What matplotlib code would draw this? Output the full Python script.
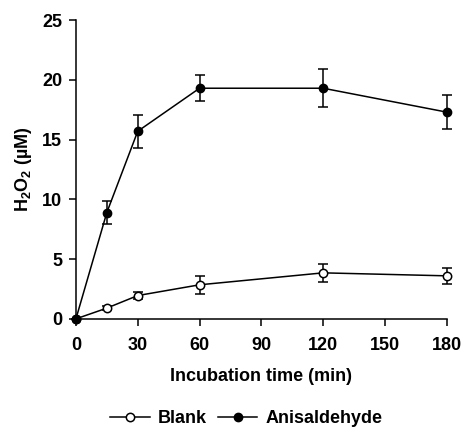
import matplotlib
matplotlib.use("Agg")
import matplotlib.pyplot as plt

plt.rcParams["font.family"] = "Liberation Sans"
plt.rcParams["font.weight"] = "bold"
plt.rcParams["mathtext.fontset"] = "custom"
plt.rcParams["mathtext.bf"] = "Liberation Sans:bold"
plt.rcParams["mathtext.rm"] = "Liberation Sans:bold"
plt.rcParams["mathtext.default"] = "bf"

time_min = [0, 15, 30, 60, 120, 180]
blank = [0, 0.9, 1.95, 2.85, 3.85, 3.6]
blank_err = [0, 0.15, 0.3, 0.75, 0.75, 0.65]
anis = [0, 8.9, 15.7, 19.3, 19.3, 17.3]
anis_err = [0, 1.0, 1.4, 1.1, 1.6, 1.4]

fig = plt.figure(figsize=(4.63, 4.28), dpi=100)
ax = fig.add_axes([0.164, 0.255, 0.801, 0.698])

ax.errorbar(time_min, blank, yerr=blank_err, color="black", lw=1.1,
            marker="o", ms=8.5, mfc="white", mec="black", mew=1.1,
            capsize=3.5, elinewidth=1.1, capthick=1.1, label="Blank",
            clip_on=False, zorder=3)
ax.errorbar(time_min, anis, yerr=anis_err, color="black", lw=1.1,
            marker="o", ms=8.5, mfc="black", mec="black",
            capsize=3.5, elinewidth=1.1, capthick=1.1, label="Anisaldehyde",
            clip_on=False, zorder=4)

ax.set_xlim(0, 180)
ax.set_ylim(0, 25)
ax.set_xticks([0, 30, 60, 90, 120, 150, 180])
ax.set_yticks([0, 5, 10, 15, 20, 25])
ax.spines["top"].set_visible(False)
ax.spines["right"].set_visible(False)
for s in ("left", "bottom"):
    ax.spines[s].set_linewidth(1.1)
ax.tick_params(direction="out", length=5, width=1.1, labelsize=13)
ax.tick_params(axis="x", pad=8)
ax.tick_params(axis="y", pad=5)

ax.set_xlabel("Incubation time (min)", fontsize=13, fontweight="bold", labelpad=10)
ax.set_ylabel("H$_2$O$_2$ (µM)", fontsize=13, fontweight="bold", labelpad=6)

handles, labels = ax.get_legend_handles_labels()
handles = [h[0] for h in handles]
for h in handles:
    h.set_markersize(6)
fig.legend(handles, labels, loc="center", bbox_to_anchor=(0.532, 0.022),
           ncol=2, frameon=False, fontsize=13, handlelength=2.2,
           handletextpad=0.45, columnspacing=0.6)

fig.savefig("out.png", dpi=100)
